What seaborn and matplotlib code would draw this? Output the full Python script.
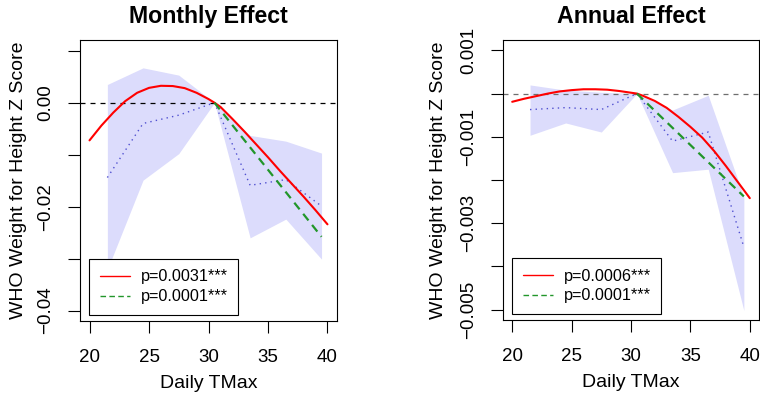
import matplotlib
matplotlib.use("Agg")
import matplotlib.pyplot as plt
from matplotlib.lines import Line2D
import pandas as pd
import seaborn as sns

# ---------------- data ----------------
bin_x = [21.5, 24.5, 27.5, 30.5, 33.5, 36.5, 39.5]

# Monthly effect
m_mean = [-0.0144, -0.0040, -0.0024, 0.0, -0.0159, -0.0148, -0.0199]
m_upper = [0.0035, 0.0067, 0.0053, 0.0, -0.0063, -0.0074, -0.0097]
m_lower = [-0.0321, -0.0149, -0.0098, 0.0, -0.0260, -0.0224, -0.0301]
m_curve_x = [20, 21, 22, 23, 24, 25, 26, 27, 28, 29, 30, 30.5,
             31, 32, 33, 34, 35, 36, 37, 38, 39, 40]
m_curve_y = [-0.00725, -0.0044, -0.0019, 0.0003, 0.0019, 0.00285, 0.00325,
             0.0032, 0.0028, 0.0019, 0.0007, 0.0, -0.0008, -0.0031, -0.0055,
             -0.0080, -0.0105, -0.0131, -0.0156, -0.0181, -0.0207, -0.0234]
m_lin_x = [30.5, 39.5]
m_lin_y = [0.0, -0.0258]
m_p = ["p=0.0031***", "p=0.0001***"]
m_yticks = [0.01, 0.0, -0.01, -0.02, -0.03, -0.04]
m_ylabels = ["", "0.00", "", "\u22120.02", "", "\u22120.04"]

# Annual effect
a_mean = [-0.00037, -0.000325, -0.00037, 0.0, -0.0011, -0.00089, -0.00355]
a_upper = [0.00020, 0.00008, 0.00003, 0.0, -0.00038, -0.00004, -0.00239]
a_lower = [-0.000965, -0.00068, -0.00089, 0.0, -0.00183, -0.00175, -0.00502]
a_curve_x = [20, 21, 22, 23, 24, 25, 26, 27, 28, 29, 30, 30.5,
             31, 32, 33, 34, 35, 36, 37, 38, 39, 40]
a_curve_y = [-0.00019, -0.00012, -0.00006, 0.0, 0.00005, 0.00008, 0.0001,
             0.0001, 0.00009, 0.00006, 0.00002, 0.0, -0.00005, -0.00017,
             -0.00033, -0.00054, -0.00077, -0.00102, -0.00133, -0.00168,
             -0.00205, -0.00242]
a_lin_x = [30.5, 39.5]
a_lin_y = [0.0, -0.00238]
a_p = ["p=0.0006***", "p=0.0001***"]
a_yticks = [0.001, 0.0, -0.001, -0.002, -0.003, -0.004, -0.005]
a_ylabels = ["0.001", "", "\u22120.001", "", "\u22120.003", "", "\u22120.005"]

xticks = [20, 25, 30, 35, 40]

# ---------------- style ----------------
sns.set_theme(style="white")
plt.rcParams["font.family"] = ["Liberation Sans", "DejaVu Sans"]
plt.rcParams["axes.edgecolor"] = "black"
plt.rcParams["axes.linewidth"] = 0.8
plt.rcParams["text.color"] = "black"
plt.rcParams["axes.labelcolor"] = "black"
plt.rcParams["axes.titlecolor"] = "black"
plt.rcParams["xtick.color"] = "black"
plt.rcParams["ytick.color"] = "black"
plt.rcParams["legend.labelcolor"] = "black"

W, H = 760, 395
fig = plt.figure(figsize=(W / 100, H / 100), dpi=100)

BAND = "#DCDCFC"
DOT = "#5050D0"
RED = "#FF0000"
GREEN = "#22962A"


def px_axes(left, right, top, bottom):
    return fig.add_axes([left / W, 1 - bottom / H, (right - left) / W, (bottom - top) / H])


def panel(ax, title, mean, upper, lower, cx, cy, lx, ly, plabels,
          yticks, ylabels, ylim, zero_color, ylab_x, leg_x):
    ax.fill_between(bin_x, lower, upper, color=BAND, lw=0, zorder=1)
    ax.axhline(0, color=zero_color, lw=0.9, ls=(0, (4, 4)), zorder=2)
    sns.lineplot(x=bin_x, y=mean, ax=ax, color=DOT, lw=1.0,
                 linestyle=(0, (1, 3)), zorder=3)
    sns.lineplot(x=cx, y=cy, ax=ax, color=RED, lw=1.5, zorder=4)
    sns.lineplot(x=lx, y=ly, ax=ax, color=GREEN, lw=1.6,
                 linestyle=(0, (3.8, 2.6)), zorder=5)

    ax.set_xlim(19.2, 40.8)
    ax.set_ylim(*ylim)
    ax.set_xticks(xticks)
    ax.set_xticklabels([str(t) for t in xticks])
    ax.set_yticks(yticks)
    ax.set_yticklabels(ylabels, rotation=90, va="center")
    ax.tick_params(axis="both", direction="out", length=8.5, width=0.8,
                   colors="black", labelsize=13.5, left=True, bottom=True)
    ax.tick_params(axis="x", pad=12)
    ax.tick_params(axis="y", pad=10)
    for s in ax.spines.values():
        s.set_visible(True)
        s.set_color("black")
        s.set_linewidth(0.8)

    ax.set_title(title, fontsize=16.7, fontweight="bold", y=1.0616, pad=0,
                 color="black")
    ax.set_xlabel("Daily TMax", fontsize=14)
    ax.xaxis.set_label_coords(0.5, -0.192)
    ax.set_ylabel("WHO Weight for Height Z Score", fontsize=14)
    ax.yaxis.set_label_coords(ylab_x, 0.5)

    handles = [Line2D([], [], color=RED, lw=1.0),
               Line2D([], [], color=GREEN, lw=1.0, ls=(0, (4.0, 2.4)))]
    leg = ax.legend(handles, plabels, loc="lower left",
                    bbox_to_anchor=(leg_x, 0.021), borderaxespad=0,
                    fontsize=11.7, handlelength=1.85, handletextpad=0.65,
                    labelspacing=0.3, borderpad=0.66, fancybox=False,
                    framealpha=1, edgecolor="black")
    leg.get_frame().set_linewidth(0.8)


ax1 = px_axes(80, 337, 40, 321)
panel(ax1, "Monthly Effect", m_mean, m_upper, m_lower, m_curve_x, m_curve_y,
      m_lin_x, m_lin_y, m_p, m_yticks, m_ylabels, (-0.042, 0.01206),
      "black", -0.206, 0.036)

ax2 = px_axes(502.7, 759.3, 40, 320)
panel(ax2, "Annual Effect", a_mean, a_upper, a_lower, a_curve_x, a_curve_y,
      a_lin_x, a_lin_y, a_p, a_yticks, a_ylabels, (-0.00524, 0.00124),
      "#6E6E6E", -0.217, 0.037)

fig.savefig("out.png", dpi=100)
